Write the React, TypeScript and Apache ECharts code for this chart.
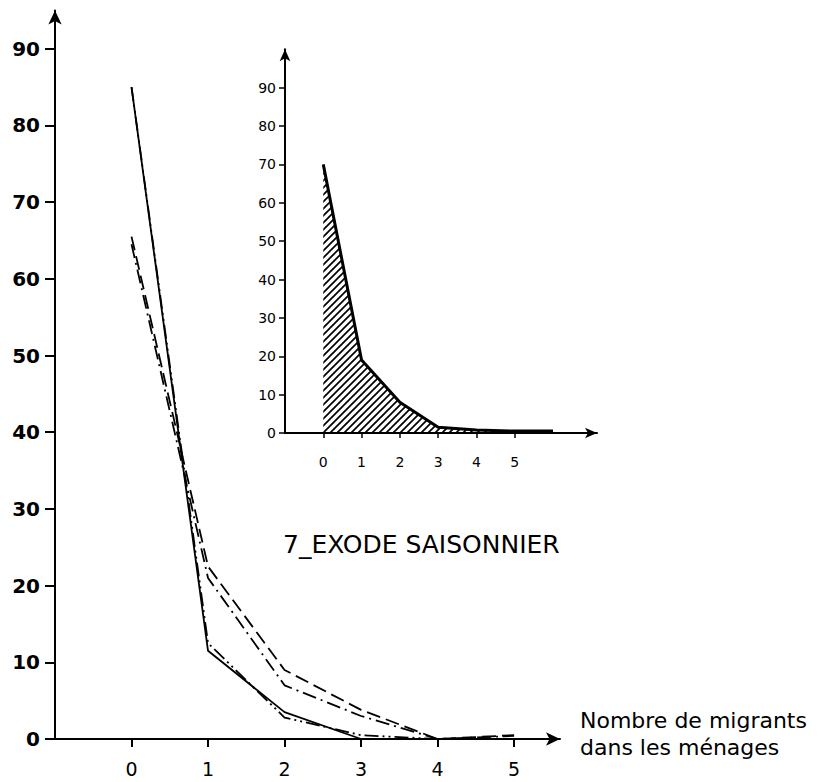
import React, { useEffect, useRef } from "react";
import * as echarts from "echarts";

// ---- data ----
const categories = [0, 1, 2, 3, 4, 5];
const yTicks = [0, 10, 20, 30, 40, 50, 60, 70, 80, 90];
const solidSeries = [85, 11.5, 3.5, 0, 0, 0];
const dashDotDotSeries = [85, 12.5, 2.8, 0.5, 0, 0];
const dashDotSeries = [64.5, 21, 7, 3, 0, 0.4];
const dashedSeries = [65.5, 22.5, 9, 3.8, 0, 0.5];

const insetCategories = [0, 1, 2, 3, 4, 5, 6];
const insetTicks = [0, 10, 20, 30, 40, 50, 60, 70, 80, 90];
const insetXTicks = [0, 1, 2, 3, 4, 5];
const insetValues = [70, 19, 8, 1.5, 0.8, 0.5, 0.5];

const title = "7_EXODE SAISONNIER";
const axisTitle1 = "Nombre de migrants";
const axisTitle2 = "dans les ménages";

const FONT = "DejaVu Sans";

function pairs(xs: number[], ys: number[]) {
  return xs.map((x, i) => [x, ys[i]]);
}

function makeHatch() {
  const c = document.createElement("canvas");
  c.width = 7;
  c.height = 7;
  const ctx = c.getContext("2d")!;
  ctx.strokeStyle = "#000";
  ctx.lineWidth = 1.7;
  ctx.beginPath();
  ctx.moveTo(0, 7);
  ctx.lineTo(7, 0);
  ctx.moveTo(-1, 1);
  ctx.lineTo(1, -1);
  ctx.moveTo(6, 8);
  ctx.lineTo(8, 6);
  ctx.stroke();
  return c;
}

export default function App() {
  const ref = useRef<HTMLDivElement>(null);
  useEffect(() => {
    document.body.style.margin = "0";
    const chart = echarts.init(ref.current!, null, { renderer: "svg" });
    const hatch = makeHatch();
    const lineBase = { type: "line", symbol: "none", silent: true };
    chart.setOption({
      animation: false,
      backgroundColor: "#ffffff",
      grid: [
        { left: 55, right: 271, top: 10.4, bottom: 43 },
        { left: 285, right: 234, top: 49.3, bottom: 349 },
      ],
      xAxis: [
        {
          gridIndex: 0,
          type: "value",
          min: -1,
          max: 5.6,
          splitLine: { show: false },
          axisLine: {
            onZero: false,
            symbol: ["none", "arrow"],
            symbolSize: [10, 14],
            lineStyle: { color: "#000", width: 2 },
          },
          axisTick: {
            customValues: categories,
            length: 8,
            lineStyle: { color: "#000", width: 2 },
          },
          axisLabel: {
            customValues: categories,
            margin: 20,
            color: "#000",
            fontFamily: FONT,
            fontSize: 19,
          },
        },
        {
          gridIndex: 1,
          type: "value",
          min: -1,
          max: 7.15,
          splitLine: { show: false },
          axisLine: {
            onZero: false,
            symbol: ["none", "arrow"],
            symbolSize: [8, 12],
            lineStyle: { color: "#000", width: 2 },
          },
          axisTick: {
            customValues: insetXTicks,
            length: 5,
            lineStyle: { color: "#000", width: 1.5 },
          },
          axisLabel: {
            customValues: insetXTicks,
            margin: 22,
            color: "#000",
            fontFamily: FONT,
            fontSize: 14,
          },
        },
      ],
      yAxis: [
        {
          gridIndex: 0,
          type: "value",
          min: 0,
          max: 95,
          splitLine: { show: false },
          axisLine: {
            show: true,
            onZero: false,
            symbol: ["none", "arrow"],
            symbolSize: [10, 14],
            lineStyle: { color: "#000", width: 2 },
          },
          axisTick: {
            show: true,
            customValues: yTicks,
            length: 10,
            lineStyle: { color: "#000", width: 2 },
          },
          axisLabel: {
            customValues: yTicks,
            margin: 15,
            color: "#000",
            fontFamily: FONT,
            fontWeight: "bold",
            fontSize: 20,
          },
        },
        {
          gridIndex: 1,
          type: "value",
          min: 0,
          max: 100,
          splitLine: { show: false },
          axisLine: {
            show: true,
            onZero: false,
            symbol: ["none", "arrow"],
            symbolSize: [8, 12],
            lineStyle: { color: "#000", width: 2 },
          },
          axisTick: {
            show: true,
            customValues: insetTicks,
            length: 6,
            lineStyle: { color: "#000", width: 1.5 },
          },
          axisLabel: {
            customValues: insetTicks,
            margin: 9,
            color: "#000",
            fontFamily: FONT,
            fontSize: 14,
          },
        },
      ],
      series: [
        {
          ...lineBase,
          name: "solid",
          xAxisIndex: 0,
          yAxisIndex: 0,
          data: pairs(categories, solidSeries),
          lineStyle: { color: "#000", width: 1.8, type: "solid" },
        },
        {
          ...lineBase,
          name: "dashdotdot",
          xAxisIndex: 0,
          yAxisIndex: 0,
          data: pairs(categories, dashDotDotSeries),
          lineStyle: { color: "#000", width: 1.8, type: [14, 4, 2, 4, 2, 4] },
        },
        {
          ...lineBase,
          name: "dashdot",
          xAxisIndex: 0,
          yAxisIndex: 0,
          data: pairs(categories, dashDotSeries),
          lineStyle: { color: "#000", width: 1.8, type: [14, 5, 2, 5] },
        },
        {
          ...lineBase,
          name: "dashed",
          xAxisIndex: 0,
          yAxisIndex: 0,
          data: pairs(categories, dashedSeries),
          lineStyle: { color: "#000", width: 1.8, type: [14, 6] },
        },
        {
          ...lineBase,
          name: "inset",
          xAxisIndex: 1,
          yAxisIndex: 1,
          data: pairs(insetCategories, insetValues),
          lineStyle: { color: "#000", width: 3 },
          areaStyle: {
            origin: "start",
            opacity: 1,
            color: { image: hatch, repeat: "repeat", imageWidth: 7, imageHeight: 7 },
          },
        },
      ],
      graphic: [
        {
          type: "text",
          left: 283,
          top: 532,
          style: { text: title, fill: "#000", font: `25px "${FONT}"` },
        },
        {
          type: "text",
          left: 580,
          top: 709,
          style: { text: axisTitle1, fill: "#000", font: `22px "${FONT}"` },
        },
        {
          type: "text",
          left: 580,
          top: 736,
          style: { text: axisTitle2, fill: "#000", font: `22px "${FONT}"` },
        },
      ],
    });
    return () => chart.dispose();
  }, []);
  return (
    <div
      ref={ref}
      style={{ position: "fixed", left: 0, top: 0, width: 831, height: 782, background: "#fff" }}
    />
  );
}
